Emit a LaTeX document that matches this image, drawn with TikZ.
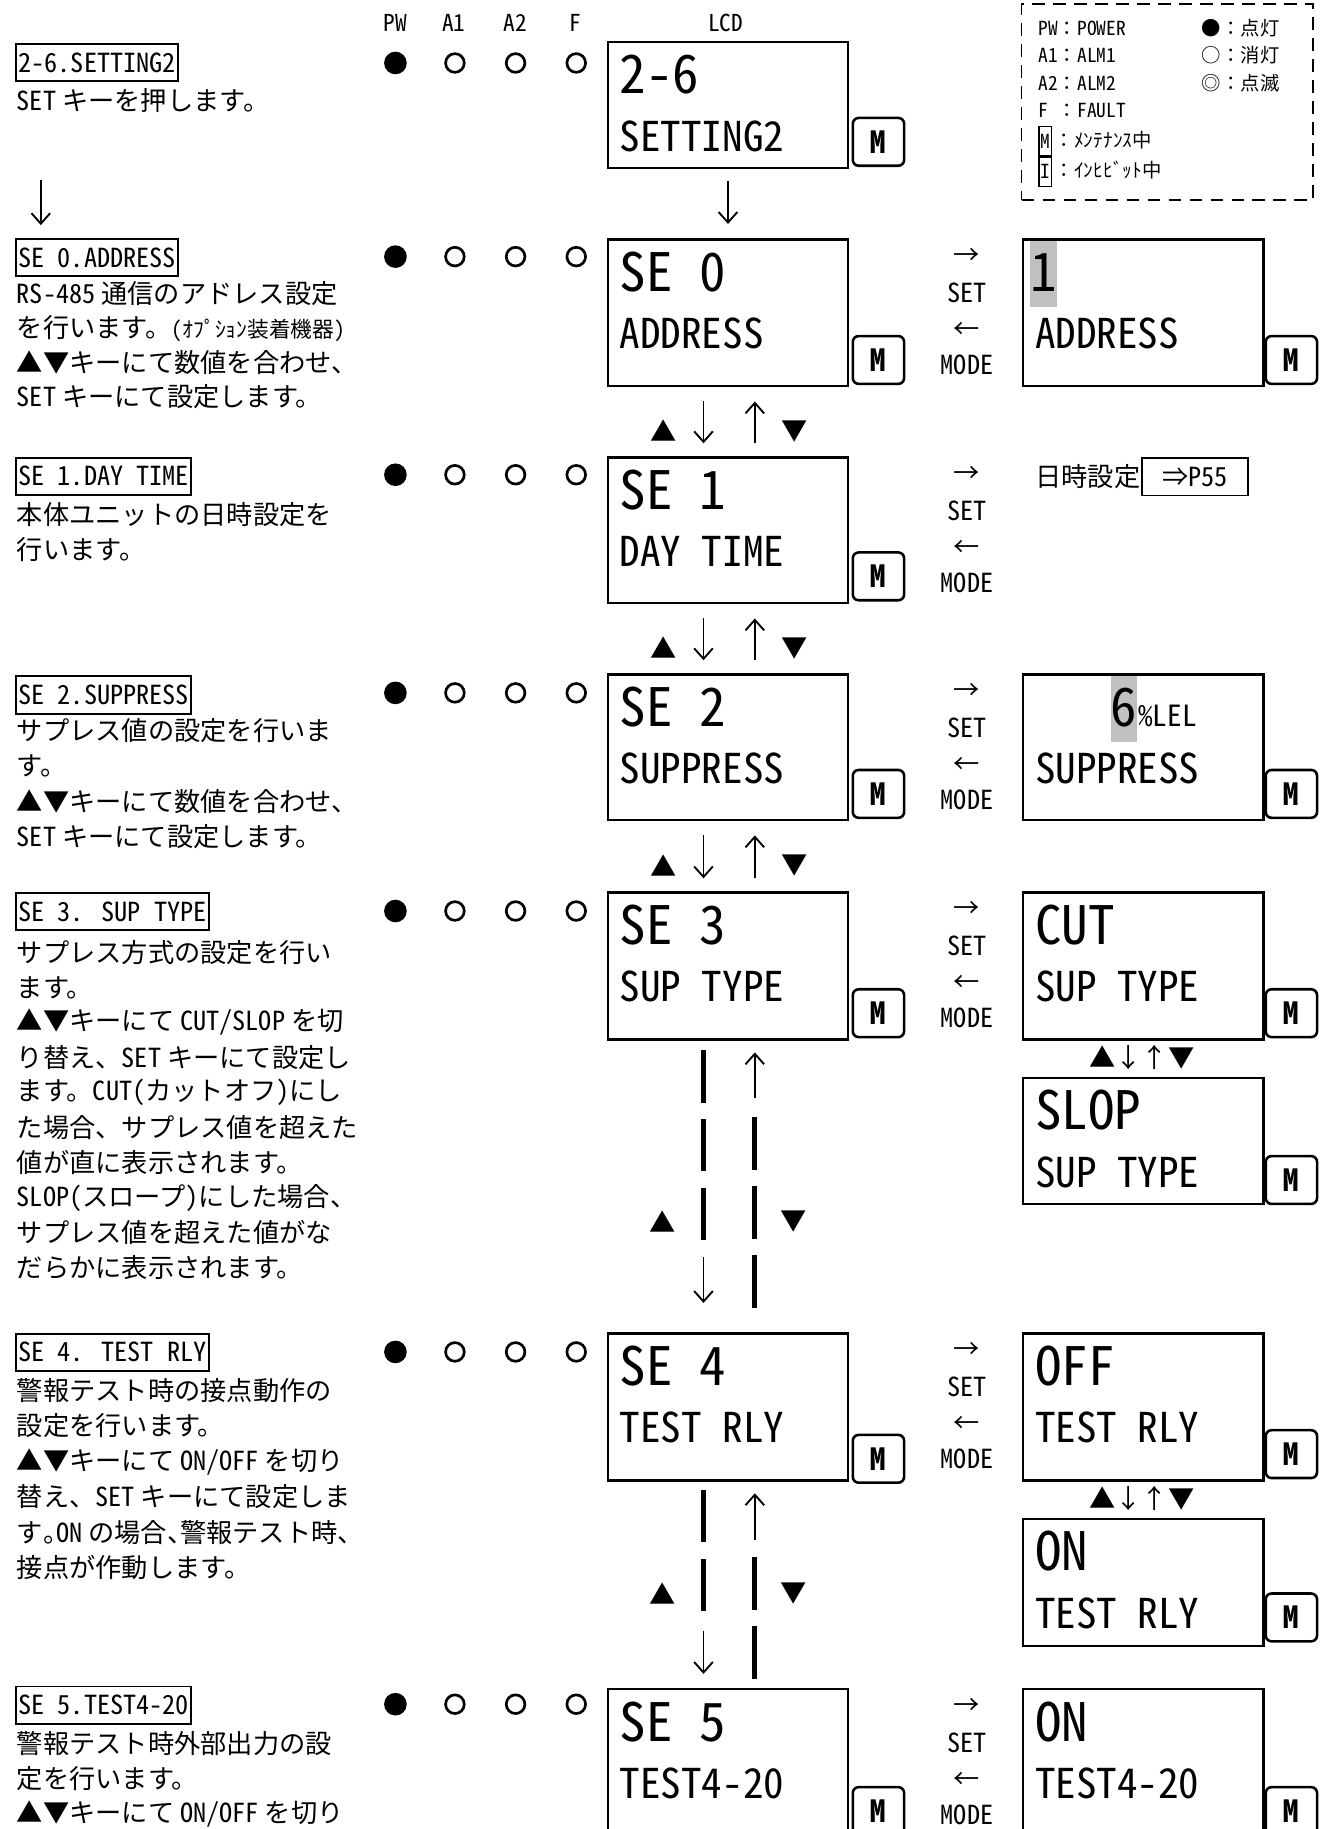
\documentclass[tikz,border=0pt]{standalone}
\usepackage{fontspec}
\setmainfont{Noto Sans CJK JP}
\newfontfamily\hwf{Noto Sans CJK JP}[CharacterWidth=Half]
\usetikzlibrary{arrows.meta,calc}
\definecolor{hlgray}{RGB}{192,192,192}
\newcommand\hwsel{\hwf\fontdimen2\font=0.5em\fontdimen3\font=0pt\fontdimen4\font=0pt\relax}
\newcommand\h[1]{{\hwsel #1}}
\newcommand\hp[1]{\makebox[0.5em][l]{#1}}
\newcommand\fbody{\fontsize{11.25}{13}\selectfont}
\newcommand\fsmall{\fontsize{9.3}{11}\selectfont}
\newcommand\fleg{\fontsize{8.3}{10}\selectfont}
\newcommand\fhead{\fontsize{10}{12}\selectfont}
\newcommand\flcdA{\fontsize{22.7}{26}\selectfont\hwsel}
\newcommand\flcdB{\fontsize{17.6}{20}\selectfont\hwsel}
\newcommand\flel{\fontsize{12.5}{14}\selectfont\hwsel}
\newcommand\fM{\fontsize{13}{13}\selectfont\hwf\bfseries}
\newcommand\ledrow[2]{%
 \node[ledon] (#1p) at (339,#2) {};
 \node[ledoff] (#1a) at (390,#2) {};
 \node[ledoff] (#1b) at (442,#2) {};
 \node[ledoff] (#1f) at (494,#2) {};}
\newcommand\setmode[2]{%
 \node[key] (#1r) at (829,{#2+16}) {→};
 \node[key,font=\fbody\hwsel] (#1s) at (829,{#2+47}) {SET};
 \node[key] (#1l) at (829,{#2+79}) {←};
 \node[key,font=\fbody\hwsel] (#1m) at (829,{#2+109}) {MODE};}
\newcommand\updown[3]{%
 \draw[thinarr] ($(#1.south)+(-21,12)$) -- ($(#2.north)+(-21,-11)$);
 \draw[thinarr] ($(#2.north)+(23,-11)$) -- ($(#1.south)+(23,12)$);
 \node[key] (#3u) at ($(#1.south)!0.5!(#2.north)+(-55,8)$) {▲};
 \node[key] (#3d) at ($(#1.south)!0.5!(#2.north)+(57,8)$) {▼};}
\begin{document}
\begin{tikzpicture}[x=0.5pt,y=-0.5pt,
  every node/.style={inner sep=0pt},
  lcd/.style={draw, line width=1.1pt, anchor=north west, minimum width=103pt},
  mbtn/.style={draw, line width=1.1pt, rounded corners=2.5pt, anchor=north west, minimum width=22pt, minimum height=20.5pt, font=\fM},
  ledon/.style={circle, fill, minimum size=9.7pt},
  ledoff/.style={circle, draw, line width=1.15pt, minimum size=8pt},
  ttl/.style={draw, line width=0.8pt, anchor=north west, inner xsep=1pt, minimum height=16pt, font=\fbody\hwsel},
  txt/.style={anchor=west, font=\fbody},
  la/.style={anchor=west, font=\flcdA},
  lb/.style={anchor=west, font=\flcdB},
  key/.style={font=\fbody},
  leg/.style={anchor=west, font=\fleg},
  thinarr/.style={line width=0.8pt, -{Straight Barb[length=4.5pt,width=8pt]}},
  thickdash/.style={line width=2pt, dash pattern=on 22.5pt off 7pt},
  hl/.style={fill=hlgray, anchor=north west, minimum width=11pt, minimum height=29.5pt, font=\flcdA},
]
\useasboundingbox (0,0) rectangle (1138,1568);
\clip (0,0) rectangle (1138,1568);

% header
\node[font=\fhead\hwsel] (hPW) at (339,20) {PW};
\node[font=\fhead\hwsel] (hA1) at (389,20) {A1};
\node[font=\fhead\hwsel] (hA2) at (442,20) {A2};
\node[font=\fhead\hwsel] (hF) at (493,20) {F};
\node[font=\fhead\hwsel] (hLCD) at (622,20) {LCD};

% legend
\node[draw, line width=0.75pt, dash pattern=on 5.4pt off 3.6pt, anchor=north west, minimum width=125pt, minimum height=84pt] (legend) at (875,3) {};
\node[leg] (lg1) at (890,24) {\h{PW}：\h{POWER}};
\node[leg] (lg2) at (890,47.5) {\h{A1}：\h{ALM1}};
\node[leg] (lg3) at (890,71.5) {\h{A2}：\h{ALM2}};
\node[leg] (lg4) at (890,95) {\h{F }：\h{FAULT}};
\node[draw, line width=0.6pt, anchor=north west, minimum width=5.5pt, minimum height=12.5pt, font=\fleg\hwsel] (lgM) at (890,108) {M};
\node[draw, line width=0.6pt, anchor=north, minimum width=5.5pt, minimum height=12.5pt, font=\fleg\hwsel] (lgI) at (lgM.south) {I};
\node[leg] (lg5) at (904,120.5) {：ﾒﾝﾃﾅﾝｽ中};
\node[leg] (lg6) at (904,146) {：ｲﾝﾋﾋﾞｯﾄ中};
\node[leg] (lg7) at (1030,24) {●：点灯};
\node[leg] (lg8) at (1030,47.5) {○：消灯};
\node[leg] (lg9) at (1030,71.5) {◎：点滅};

% LEDs
\ledrow{LA}{54}
\ledrow{L0}{220}
\ledrow{L1}{407}
\ledrow{L2}{594}
\ledrow{L3}{781}
\ledrow{L4}{1159}
\ledrow{L5}{1461}

% left column texts
\node[ttl] (ttlA) at (13,37) {2-6.SETTING2};
\node[txt] (tA1) at (14,86) {\h{SET} キーを押します。};

\node[ttl] (ttl0) at (13,204) {SE 0.ADDRESS};
\node[txt] (t01) at (14,252) {\h{RS-485} 通信のアドレス設定};
\node[txt] (t02) at (14,281.5) {を行います。{\fsmall\h{(}ｵﾌﾟｼｮﾝ装着機器\h{)}}};
\node[txt] (t03) at (14,311) {▲▼キーにて数値を合わせ、};
\node[txt] (t04) at (14,340) {\h{SET} キーにて設定します。};

\node[ttl] (ttl1) at (13,391.5) {SE 1.DAY TIME};
\node[txt] (t11) at (14,441.5) {本体ユニットの日時設定を};
\node[txt] (t12) at (14,471.5) {行います。};

\node[ttl] (ttl2) at (13,579) {SE 2.SUPPRESS};
\node[txt] (t21) at (14,626) {サプレス値の設定を行いま};
\node[txt] (t22) at (14,657) {す。};
\node[txt] (t23) at (14,687.5) {▲▼キーにて数値を合わせ、};
\node[txt] (t24) at (14,717.5) {\h{SET} キーにて設定します。};

\node[ttl] (ttl3) at (13,764.5) {SE 3. SUP TYPE};
\node[txt] (t31) at (14,816.5) {サプレス方式の設定を行い};
\node[txt] (t32) at (14,846.5) {ます。};
\node[txt] (t33) at (14,876.5) {▲▼キーにて \h{CUT/SLOP} を切};
\node[txt] (t34) at (14,906.5) {り替え、\h{SET} キーにて設定し};
\node[txt] (t35) at (14,936.5) {ます。\h{CUT(}カットオフ\h{)}にし};
\node[txt] (t36) at (14,966.5) {た場合、サプレス値を超えた};
\node[txt] (t37) at (14,996.5) {値が直に表示されます。};
\node[txt] (t38) at (14,1027) {\h{SLOP(}スロープ\h{)}にした場合、};
\node[txt] (t39) at (14,1057) {サプレス値を超えた値がな};
\node[txt] (t3a) at (14,1087) {だらかに表示されます。};

\node[ttl] (ttl4) at (13,1142.5) {SE 4. TEST RLY};
\node[txt] (t41) at (14,1192) {警報テスト時の接点動作の};
\node[txt] (t42) at (14,1222) {設定を行います。};
\node[txt] (t43) at (14,1253) {▲▼キーにて \h{ON/OFF} を切り};
\node[txt] (t44) at (14,1283) {替え、\h{SET} キーにて設定しま};
\node[txt] (t45) at (14,1313.5) {す\hp{。}\h{ON} の場合\hp{、}警報テスト時、};
\node[txt] (t46) at (14,1343.5) {接点が作動します。};

\node[ttl] (ttl5) at (13,1445) {SE 5.TEST4-20};
\node[txt] (t51) at (14,1495) {警報テスト時外部出力の設};
\node[txt] (t52) at (14,1525) {定を行います。};
\node[txt] (t53) at (14,1555) {▲▼キーにて \h{ON/OFF} を切り};

\draw[thinarr] ($(ttlA.south west)+(22,84)$) -- ($(ttl0.north west)+(22,-11)$);

% main LCDs
\node[lcd, minimum height=54pt] (lcdA) at (520,35) {};
\node[la] (lcdA1) at (531,64) {2-6};
\node[lb] (lcdA2) at (531,117) {SETTING2};
\node[mbtn] (mA) at (730,100) {M};

\node[lcd, minimum height=63pt] (lcd0) at (520,204) {};
\node[la] (lcd01) at (531,233) {SE 0};
\node[lb] (lcd02) at (531,286) {ADDRESS};
\node[mbtn] (m0) at (730,287) {M};

\node[lcd, minimum height=62.5pt] (lcd1) at (520,391) {};
\node[la] (lcd11) at (531,420) {SE 1};
\node[lb] (lcd12) at (531,473) {DAY TIME};
\node[mbtn] (m1) at (730,472.5) {M};

\node[lcd, minimum height=62.5pt] (lcd2) at (520,577) {};
\node[la] (lcd21) at (531,606) {SE 2};
\node[lb] (lcd22) at (531,659) {SUPPRESS};
\node[mbtn] (m2) at (730,659) {M};

\node[lcd, minimum height=63pt] (lcd3) at (520,764) {};
\node[la] (lcd31) at (531,793) {SE 3};
\node[lb] (lcd32) at (531,846) {SUP TYPE};
\node[mbtn] (m3) at (730,847) {M};

\node[lcd, minimum height=63pt] (lcd4) at (520,1142) {};
\node[la] (lcd41) at (531,1171) {SE 4};
\node[lb] (lcd42) at (531,1224) {TEST RLY};
\node[mbtn] (m4) at (730,1229) {M};

\node[lcd, minimum height=63pt] (lcd5) at (520,1447) {};
\node[la] (lcd51) at (531,1476) {SE 5};
\node[lb] (lcd52) at (531,1529) {TEST4-20};
\node[mbtn] (m5) at (730,1531) {M};

% main vertical connectors
\draw[thinarr] ($(lcdA.south)+(0,10)$) -- ($(lcd0.north)+(0,-12)$);
\updown{lcd0}{lcd1}{ud01}
\updown{lcd1}{lcd2}{ud12}
\updown{lcd2}{lcd3}{ud23}

% SE3 -> SE4
\draw[thickdash] ($(lcd3.south)+(-21,8)$) -- ($(lcd3.south)+(-21,172)$);
\draw[thinarr] ($(lcd4.north)+(-21,-64)$) -- ($(lcd4.north)+(-21,-25)$);
\draw[thinarr] ($(lcd3.south)+(23,49)$) -- ($(lcd3.south)+(23,10)$);
\draw[thickdash] ($(lcd4.north)+(23,-184)$) -- ($(lcd4.north)+(23,-20)$);
\node[key] (ud34u) at (568,1047) {▲};
\node[key] (ud34d) at (680,1047) {▼};

% SE4 -> SE5
\draw[thickdash] ($(lcd4.south)+(-21,7)$) -- ($(lcd4.south)+(-21,111)$);
\draw[thinarr] ($(lcd5.north)+(-21,-49)$) -- ($(lcd5.north)+(-21,-12)$);
\draw[thinarr] ($(lcd4.south)+(23,50)$) -- ($(lcd4.south)+(23,10)$);
\draw[thickdash] ($(lcd5.north)+(23,-112)$) -- ($(lcd5.north)+(23,-8)$);
\node[key] (ud45u) at (568,1366) {▲};
\node[key] (ud45d) at (680,1366) {▼};

% SET / MODE labels
\setmode{sm0}{204}
\setmode{sm1}{391}
\setmode{sm2}{577}
\setmode{sm3}{764}
\setmode{sm4}{1142}
\setmode{sm5}{1447}

% right LCDs
\node[hl] (r0hl) at (883,204) {1};
\node[lcd, minimum height=63pt] (r0) at (876,204) {};
\node[lb] (r0b) at (887,286) {ADDRESS};
\node[mbtn] (mr0) at (1084,287) {M};

\node[draw, line width=0.8pt, anchor=north west, minimum width=45.5pt, minimum height=16pt, font=\fbody] (p55) at (978,392) {⇒\h{P55}};
\node[anchor=east, font=\fbody] (dt) at (p55.west) {日時設定};

\node[hl] (r2hl) at (952,577) {6};
\node[anchor=base west, font=\flel] (r2u) at (r2hl.base east) {\%LEL};
\node[lcd, minimum height=62.5pt] (r2) at (876,577) {};
\node[lb] (r2b) at (887,659) {SUPPRESS};
\node[mbtn] (mr2) at (1084,659) {M};

\node[lcd, minimum height=63pt] (r3a) at (876,764) {};
\node[la] (r3a1) at (887,793) {CUT};
\node[lb] (r3a2) at (887,846) {SUP TYPE};
\node[mbtn] (mr3a) at (1084,847) {M};
\node[key] (r3ud) at (979,907) {▲↓↑▼};
\node[lcd, minimum height=54pt] (r3b) at (876,923) {};
\node[la] (r3b1) at (887,952) {SLOP};
\node[lb] (r3b2) at (887,1005) {SUP TYPE};
\node[mbtn] (mr3b) at (1084,990) {M};

\node[lcd, minimum height=63pt] (r4a) at (876,1142) {};
\node[la] (r4a1) at (887,1171) {OFF};
\node[lb] (r4a2) at (887,1224) {TEST RLY};
\node[mbtn] (mr4a) at (1084,1225) {M};
\node[key] (r4ud) at (979,1285) {▲↓↑▼};
\node[lcd, minimum height=54.5pt] (r4b) at (876,1301) {};
\node[la] (r4b1) at (887,1330) {ON};
\node[lb] (r4b2) at (887,1383) {TEST RLY};
\node[mbtn] (mr4b) at (1084,1365) {M};

\node[lcd, minimum height=63pt] (r5) at (876,1447) {};
\node[la] (r51) at (887,1476) {ON};
\node[lb] (r52) at (887,1529) {TEST4-20};
\node[mbtn] (mr5) at (1084,1531) {M};
\end{tikzpicture}
\end{document}
